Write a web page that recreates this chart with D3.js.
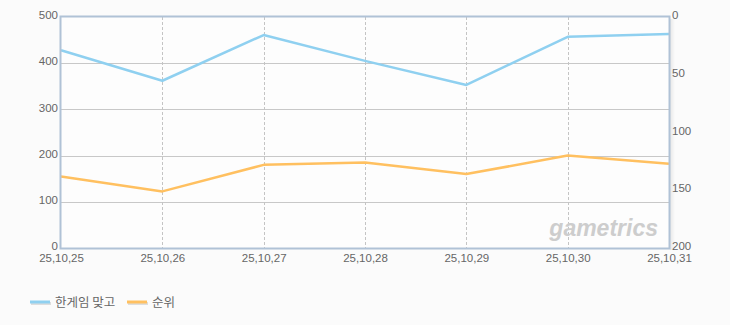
<!DOCTYPE html>
<html>
<head>
<meta charset="utf-8">
<script src="https://cdn.jsdelivr.net/npm/d3@7"></script>
<style>
  body { margin: 0; background: #fbfbfb; }
  svg { display: block; }
  .tick text { font-family: "Liberation Sans", Arial, sans-serif; font-size: 11.5px; fill: #666; }
</style>
</head>
<body>
<div id="chart"></div>
<script>
// data
var dates = ["25,10,25", "25,10,26", "25,10,27", "25,10,28", "25,10,29", "25,10,30", "25,10,31"];
var gameValues = [428, 362, 461, 405, 353, 457, 463];
var rankValues = [138, 151, 128, 126, 136, 120, 127];
var leftTicks = [0, 100, 200, 300, 400, 500];
var rightTicks = [0, 50, 100, 150, 200];
var seriesNames = ["한게임 맞고", "순위"];
var colors = ["#8fd0f0", "#ffc060"];

var W = 730, H = 325;
var margin = { top: 17, right: 61, bottom: 77, left: 61 },
    width = W - margin.left - margin.right,
    height = H - margin.top - margin.bottom;

var svg = d3.select("#chart").append("svg").attr("width", W).attr("height", H);

var defs = svg.append("defs");
var grad = defs.append("linearGradient").attr("id", "shadow");
grad.append("stop").attr("offset", "0%").attr("stop-color", "#000").attr("stop-opacity", 0.08);
grad.append("stop").attr("offset", "100%").attr("stop-color", "#000").attr("stop-opacity", 0);

var g = svg.append("g").attr("transform", "translate(" + margin.left + "," + margin.top + ")");

var x = d3.scalePoint().domain(dates).range([0, width]);
var yL = d3.scaleLinear().domain([0, 500]).range([height, 0]);
var yR = d3.scaleLinear().domain([0, 200]).range([0, height]);

// plot background + right shadow
g.append("rect").attr("x", width + 1).attr("y", 2).attr("width", 5).attr("height", height)
  .attr("fill", "url(#shadow)");
g.append("rect").attr("width", width).attr("height", height).attr("fill", "#fdfdfd");

// horizontal grid
g.selectAll(".hgrid").data(leftTicks.slice(1, -1)).enter().append("line")
  .attr("x1", 0).attr("x2", width)
  .attr("y1", function (d) { return Math.round(yL(d)) + 0.5; })
  .attr("y2", function (d) { return Math.round(yL(d)) + 0.5; })
  .attr("stroke", "#c8c8c8");

// vertical dashed grid
g.selectAll(".vgrid").data(dates.slice(1, -1)).enter().append("line")
  .attr("x1", function (d) { return Math.round(x(d)) + 0.5; })
  .attr("x2", function (d) { return Math.round(x(d)) + 0.5; })
  .attr("y1", 0).attr("y2", height)
  .attr("stroke", "#c4c4c4").attr("stroke-dasharray", "3,2");

// watermark
g.append("text").attr("x", width - 11).attr("y", height - 12)
  .attr("text-anchor", "end")
  .style("font-family", "'Liberation Sans', sans-serif").style("font-size", "23px")
  .style("font-weight", "bold").style("font-style", "italic")
  .style("fill", "#cdcdcd").style("letter-spacing", "0px")
  .text("gametrics");

// lines
var lineL = d3.line().x(function (d, i) { return x(dates[i]); }).y(function (d) { return yL(d); });
var lineR = d3.line().x(function (d, i) { return x(dates[i]); }).y(function (d) { return yR(d); });

g.append("path").datum(gameValues).attr("d", lineL).attr("fill", "none")
  .attr("stroke", colors[0]).attr("stroke-width", 2.5).attr("stroke-linejoin", "round");
g.append("path").datum(rankValues).attr("d", lineR).attr("fill", "none")
  .attr("stroke", colors[1]).attr("stroke-width", 2.5).attr("stroke-linejoin", "round");

// border
g.append("rect").attr("x", -0.5).attr("y", -0.5).attr("width", width + 1).attr("height", height + 1)
  .attr("fill", "none").attr("stroke", "#b0c2d6").attr("stroke-width", 2);

// axes
var axL = g.append("g").call(d3.axisLeft(yL).tickValues(leftTicks).tickSize(0).tickPadding(3));
axL.select(".domain").remove();
axL.selectAll(".tick text").attr("dy", "0.15em");

var axR = g.append("g").attr("transform", "translate(" + width + ",0)")
  .call(d3.axisRight(yR).tickValues(rightTicks).tickSize(0).tickPadding(3));
axR.select(".domain").remove();
axR.selectAll(".tick text").attr("dy", "0.15em");

var axB = g.append("g").attr("transform", "translate(0," + height + ")")
  .call(d3.axisBottom(x).tickSize(0).tickPadding(6));
axB.select(".domain").remove();

// legend
var legend = svg.append("g").attr("transform", "translate(30,302)");
var lx = [0, 97];
seriesNames.forEach(function (name, i) {
  var item = legend.append("g").attr("transform", "translate(" + lx[i] + ",0)");
  item.append("line").attr("x1", 1).attr("x2", 21).attr("y1", 1.5).attr("y2", 1.5)
    .attr("stroke", "#ddd").attr("stroke-width", 3);
  item.append("line").attr("x1", 0).attr("x2", 20).attr("y1", 0).attr("y2", 0)
    .attr("stroke", colors[i]).attr("stroke-width", 3);
  item.append("text").attr("x", 25).attr("y", 4.5)
    .style("font-family", "'Noto Sans CJK KR', sans-serif").style("font-size", "12.5px")
    .style("fill", "#666").text(name);
});
</script>
</body>
</html>
